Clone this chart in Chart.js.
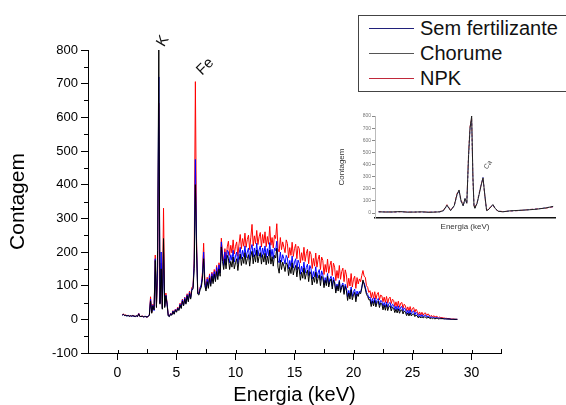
<!DOCTYPE html>
<html lang="pt">
<head>
<meta charset="utf-8">
<title>Contagem x Energia</title>
<script src="https://cdn.jsdelivr.net/npm/chart.js@4.4.1/dist/chart.umd.min.js"></script>
<style>
  html, body { margin: 0; padding: 0; background: #fff; overflow: hidden; }
  #wrap { position: relative; width: 566px; height: 405px; font-family: "Liberation Sans", Arial, sans-serif; }
  #spectrumChart { position: absolute; left: 0; top: 0; }
  #insetChart { position: absolute; left: 330px; top: 104px; }
  #legendBox { position: absolute; left: 358px; top: 15px; width: 220px; height: 75px; border: 1px solid #444; background: #fff; }
  .legend-row { position: absolute; left: 0; height: 25px; line-height: 25px; font-size: 20px; color: #111; }
  .legend-line { position: absolute; left: 10px; top: 12px; width: 45px; height: 1px; }
  .legend-text { position: absolute; left: 61px; top: 0; white-space: nowrap; }
</style>
</head>
<body>
<div id="wrap">
  <canvas id="spectrumChart" width="566" height="405"></canvas>
  <canvas id="insetChart" width="234" height="134"></canvas>
  <div id="legendBox"></div>
</div>
<script>
// energy grid of the spectrum (keV): first channel and channel width
const energyStart = 0.4;
const energyStep = 0.1;

// counts, one row = 1 keV (10 channels)
const semFertilizante = [
  13,14,12,11,10,12,9,11,9,10,
  10,8,10,9,17,8,9,9,7,8,
  9,6,10,13,60,22,42,26,180,38,
  160,720,48,200,32,200,38,72,48,11,
  9,17,13,25,16,29,23,34,28,45,
  34,58,42,64,48,73,56,80,63,90,
  94,165,475,220,78,76,92,104,130,200,
  110,90,120,98,130,104,136,112,142,118,
  154,128,162,138,230,188,160,200,162,205,
  200,168,192,175,205,170,188,200,165,195,
  214,180,205,186,218,183,200,212,178,208,
  222,185,212,190,226,188,206,218,184,212,
  192,218,184,210,188,228,186,208,180,212,
  204,232,174,168,200,170,192,180,164,190,
  182,150,175,156,188,152,170,180,146,176,
  166,134,158,140,170,137,154,164,130,160,
  150,120,142,126,156,122,138,148,116,144,
  132,102,124,108,136,104,120,128,98,125,
  112,84,105,90,116,86,100,108,80,104,
  94,66,86,70,96,68,82,90,62,84,
  72,84,80,95,112,108,96,80,74,64,
  66,46,62,48,64,45,58,62,43,56,
  54,38,50,36,52,35,47,50,34,45,
  42,28,39,27,40,26,36,38,24,34,
  30,17,27,16,28,15,23,25,13,21,
  17,8,15,8,14,7,12,13,6,10,
  9,4,8,4,7,3,5,5,3,4,
  3,3,2,2,2,1,1,1,1,0,
  0,0,0,0,0
];

const chorume = [
  12,15,11,12,10,11,9,10,10,11,
  9,9,10,8,16,9,8,9,8,8,
  8,7,8,12,55,18,40,28,175,35,
  205,800,45,150,30,240,35,70,45,10,
  8,15,12,23,15,27,21,32,26,42,
  32,54,40,60,45,70,52,76,60,86,
  90,150,400,200,75,72,88,95,120,180,
  100,84,112,92,122,98,128,106,134,112,
  142,118,150,128,215,172,148,180,150,190,
  180,148,172,155,185,150,168,180,145,175,
  194,160,185,166,198,163,180,192,158,188,
  202,165,192,170,206,168,186,198,164,192,
  170,196,162,188,166,206,164,186,158,190,
  182,211,155,137,176,148,170,158,142,168,
  162,130,155,136,168,132,150,160,126,156,
  148,116,140,122,152,119,136,146,112,142,
  134,102,126,110,140,106,122,132,100,128,
  124,94,116,100,128,96,112,120,90,116,
  108,78,100,84,112,80,95,102,74,98,
  85,56,78,60,88,58,72,80,52,75,
  68,80,76,92,117,104,90,74,68,58,
  58,38,54,40,56,37,50,54,35,48,
  46,28,42,27,44,26,38,40,25,36,
  33,20,30,19,31,18,27,28,16,25,
  21,11,19,10,19,10,15,16,8,13,
  10,4,9,4,8,4,7,7,3,6,
  5,2,4,2,4,1,3,3,1,2,
  2,2,2,1,1,1,1,1,0,0,
  0,0,0,0,0
];

const npk = [
  14,16,12,13,11,12,10,11,9,12,
  10,8,11,9,18,8,9,10,7,9,
  8,6,9,14,67,20,45,30,191,40,
  120,642,50,167,35,330,40,78,50,12,
  10,18,14,26,17,30,24,36,30,48,
  36,60,44,66,50,76,58,84,66,95,
  97,180,706,240,80,78,95,100,140,226,
  115,92,125,102,135,108,140,115,148,122,
  160,132,168,142,241,195,170,210,172,215,
  232,190,220,197,236,194,217,230,187,224,
  252,210,240,217,256,214,237,250,207,244,
  282,218,248,225,264,222,245,258,215,252,
  226,260,216,246,223,276,220,243,212,250,
  240,284,210,200,243,207,230,214,198,236,
  225,183,213,190,229,187,210,223,180,217,
  210,168,198,175,214,172,195,208,165,202,
  193,151,181,158,197,155,178,191,148,185,
  175,133,163,140,179,137,160,173,130,167,
  155,115,145,122,160,119,142,152,112,147,
  132,94,122,99,136,96,119,128,92,124,
  105,120,112,130,145,128,125,100,95,80,
  85,64,80,62,82,60,74,80,58,72,
  70,52,66,50,68,48,62,66,47,60,
  56,38,52,37,54,36,48,50,33,45,
  40,26,37,25,38,23,33,35,21,30,
  24,14,22,13,21,12,18,19,11,16,
  14,8,12,7,11,6,9,8,5,7,
  5,5,4,4,3,3,2,2,2,1,
  1,1,0,0,0
];

// axis ticks
const xTickValues = [0, 5, 10, 15, 20, 25, 30];
const xMinorTicks = [-2.5, 2.5, 7.5, 12.5, 17.5, 22.5, 27.5, 32.5];
const yTickValues = [-100, 0, 100, 200, 300, 400, 500, 600, 700, 800];
const yMinorTicks = [-50, 50, 150, 250, 350, 450, 550, 650, 750];

// element labels on the peaks
const peakNames = ['K', 'Fe'];
const peakEnergy = [3.5, 6.6];
const peakCount = [800, 706];

// legend
const seriesNames = ['Sem fertilizante', 'Chorume', 'NPK'];
const legendColors = ['#20207a', '#555555', '#c0283a'];

// inset spectrum
const insetEnergy = [0.2,0.6,1.0,1.4,1.8,2.2,2.6,3.0,3.4,3.6,3.8,4.0,4.2,4.4,4.55,4.67,4.78,4.9,5.0,5.1,5.2,5.28,5.37,5.44,5.5,5.55,5.67,5.78,5.9,6.0,6.1,6.2,6.28,6.44,6.55,6.67,6.83,7.1,7.5,8.0,8.5,9.0,9.5,9.9];
const insetChorume = [10,8,9,12,7,8,10,6,8,10,20,65,20,60,150,190,100,60,120,80,480,700,800,300,60,40,80,150,230,290,150,20,25,50,70,40,15,10,18,22,26,32,42,55];
const insetNpk = [12,9,8,10,9,7,9,8,9,12,22,70,25,62,160,185,110,65,115,85,500,720,780,280,55,45,85,160,240,285,140,25,28,55,65,35,18,12,16,20,28,35,40,50];
const insetSem = [9,10,7,11,8,9,8,7,10,9,18,60,22,58,145,180,95,58,118,78,470,690,760,290,58,42,78,155,235,295,145,22,24,52,68,38,16,11,17,21,27,33,44,52];
const insetYTicks = [0, 100, 200, 300, 400, 500, 600, 700, 800];

const fontFamily = '"Liberation Sans", Arial, sans-serif';

function toPoints(values) {
  return values.map((v, i) => ({ x: energyStart + i * energyStep, y: v }));
}

function pairPoints(xs, ys) {
  return xs.map((x, i) => ({ x: x, y: ys[i] }));
}

// small ticks between the labelled ones
const minorTicks = {
  id: 'minorTicks',
  afterDraw(chart) {
    const { ctx, scales: { x, y } } = chart;
    ctx.save();
    ctx.strokeStyle = '#000';
    ctx.lineWidth = 1;
    ctx.beginPath();
    xMinorTicks.forEach(v => {
      const px = Math.round(x.getPixelForValue(v)) + 0.5;
      ctx.moveTo(px, y.bottom);
      ctx.lineTo(px, y.bottom - 4);
    });
    xTickValues.forEach(v => {
      const px = Math.round(x.getPixelForValue(v)) + 0.5;
      ctx.moveTo(px, y.bottom);
      ctx.lineTo(px, y.bottom - 3);
    });
    yMinorTicks.forEach(v => {
      const py = Math.round(y.getPixelForValue(v)) + 0.5;
      ctx.moveTo(x.left, py);
      ctx.lineTo(x.left - 4, py);
    });
    ctx.stroke();
    ctx.restore();
  }
};

// rotated element names above the peaks
const peakLabels = {
  id: 'peakLabels',
  afterDraw(chart) {
    const { ctx, scales: { x, y } } = chart;
    const offsets = [[4, -9, -60], [10, -15, -45]];
    ctx.save();
    ctx.fillStyle = '#111';
    ctx.font = '15px ' + fontFamily;
    ctx.textAlign = 'center';
    ctx.textBaseline = 'middle';
    peakNames.forEach((name, i) => {
      const px = x.getPixelForValue(peakEnergy[i]) + offsets[i][0];
      const py = y.getPixelForValue(peakCount[i]) + offsets[i][1];
      ctx.save();
      ctx.translate(px, py);
      ctx.rotate(offsets[i][2] * Math.PI / 180);
      ctx.fillText(name, 0, 0);
      ctx.restore();
    });
    ctx.restore();
  }
};

const caLabel = {
  id: 'caLabel',
  afterDraw(chart) {
    const { ctx, scales: { x, y } } = chart;
    ctx.save();
    ctx.fillStyle = '#555';
    ctx.font = '7px ' + fontFamily;
    ctx.textAlign = 'center';
    ctx.textBaseline = 'middle';
    ctx.translate(x.getPixelForValue(6.0) + 5, y.getPixelForValue(290) - 13);
    ctx.rotate(-55 * Math.PI / 180);
    ctx.fillText('Ca', 0, 0);
    ctx.restore();
  }
};

document.addEventListener('DOMContentLoaded', function () {
  // legend box
  const legendBox = document.getElementById('legendBox');
  seriesNames.forEach((name, i) => {
    const row = document.createElement('div');
    row.className = 'legend-row';
    row.style.top = (i * 25) + 'px';
    row.innerHTML = '<div class="legend-line" style="background:' + legendColors[i] + '"></div>' +
      '<span class="legend-text">' + name + '</span>';
    legendBox.appendChild(row);
  });

  const ctx = document.getElementById('spectrumChart').getContext('2d');
  new Chart(ctx, {
    type: 'line',
    data: {
      datasets: [
        { label: seriesNames[1], data: toPoints(chorume), borderColor: '#000000', borderWidth: 1, pointRadius: 0 },
        { label: seriesNames[0], data: toPoints(semFertilizante), borderColor: '#0000ff', borderWidth: 1, pointRadius: 0 },
        { label: seriesNames[2], data: toPoints(npk), borderColor: '#ff0000', borderWidth: 1, pointRadius: 0 }
      ]
    },
    options: {
      responsive: false,
      animation: false,
      layout: { padding: { top: 50, right: 65, bottom: 0, left: 0 } },
      plugins: { legend: { display: false }, tooltip: { enabled: false } },
      scales: {
        x: {
          type: 'linear',
          min: -2.5,
          max: 32.5,
          afterFit: s => { s.height = 52; },
          afterBuildTicks: s => { s.ticks = xTickValues.map(v => ({ value: v })); },
          grid: { drawOnChartArea: false, tickLength: 7, color: '#000' },
          border: { color: '#000', width: 1 },
          ticks: { color: '#000', font: { family: fontFamily, size: 14 }, padding: 5, maxRotation: 0 },
          title: { display: true, text: 'Energia (keV)', color: '#000', font: { family: fontFamily, size: 20, lineHeight: 1 }, padding: 0 }
        },
        y: {
          min: -100,
          max: 800,
          afterFit: s => { s.width = 88; },
          afterBuildTicks: s => { s.ticks = yTickValues.map(v => ({ value: v })); },
          grid: { drawOnChartArea: false, tickLength: 7, color: '#000' },
          border: { color: '#000', width: 1 },
          ticks: { color: '#000', font: { family: fontFamily, size: 13 }, padding: 3 },
          title: { display: true, text: 'Contagem', color: '#000', font: { family: fontFamily, size: 21 }, padding: { top: 6, bottom: 0 } }
        }
      }
    },
    plugins: [minorTicks, peakLabels]
  });

  // small inset spectrum
  const insetCtx = document.getElementById('insetChart').getContext('2d');
  new Chart(insetCtx, {
    type: 'line',
    data: {
      datasets: [
        { label: seriesNames[1], data: pairPoints(insetEnergy, insetChorume), borderColor: '#222', borderWidth: 1, pointRadius: 0 },
        { label: seriesNames[0], data: pairPoints(insetEnergy, insetSem), borderColor: '#5a5ac8', borderWidth: 1, borderDash: [2, 2], pointRadius: 0 },
        { label: seriesNames[2], data: pairPoints(insetEnergy, insetNpk), borderColor: '#d04862', borderWidth: 1, borderDash: [3, 2], pointRadius: 0 }
      ]
    },
    options: {
      responsive: false,
      animation: false,
      layout: { padding: { top: 12, right: 9, bottom: 0, left: 0 } },
      plugins: { legend: { display: false }, tooltip: { enabled: false } },
      scales: {
        x: {
          type: 'linear',
          min: 0,
          max: 10,
          afterFit: s => { s.height = 20; },
          grid: { drawOnChartArea: false, drawTicks: false },
          border: { color: '#111', width: 1.5 },
          ticks: { display: false },
          title: { display: true, text: 'Energia (keV)', color: '#333', font: { family: fontFamily, size: 8 }, padding: { top: 0, bottom: 6 } }
        },
        y: {
          min: -41,
          max: 800,
          afterFit: s => { s.width = 45; },
          afterBuildTicks: s => { s.ticks = insetYTicks.map(v => ({ value: v })); },
          grid: { drawOnChartArea: false, tickLength: 3, color: '#888' },
          border: { color: '#bbb', width: 1 },
          ticks: { color: '#777', font: { family: fontFamily, size: 5 }, padding: 1 },
          title: { display: true, text: 'Contagem', color: '#333', font: { family: fontFamily, size: 8 }, padding: { top: 7, bottom: 0 } }
        }
      }
    },
    plugins: [caLabel]
  });
});
</script>
</body>
</html>
